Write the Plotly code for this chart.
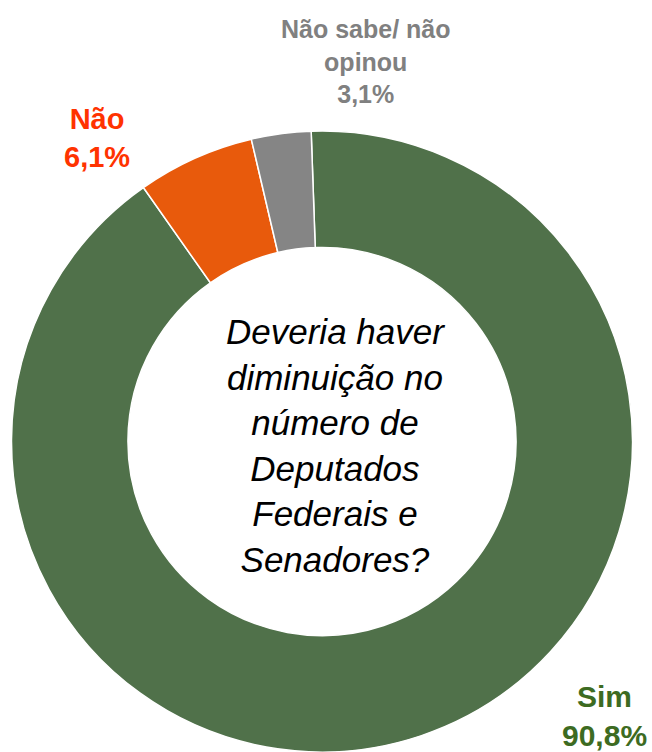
import plotly.graph_objects as go

# Data
categories = ["Sim", "Não", "Não sabe/ não opinou"]
values = [90.8, 6.1, 3.1]
label_lines = ["Sim", "Não", "Não sabe/ não<br>opinou"]

slice_colors = ["#50714a", "#e85a0c", "#858585"]
label_colors = ["#3d6b22", "#ff3300", "#808080"]

W, H = 652, 752

fig = go.Figure(go.Pie(
    labels=categories,
    values=values,
    sort=False,
    direction="clockwise",
    rotation=-2,
    hole=0.625,
    textinfo="none",
    marker=dict(colors=slice_colors, line=dict(color="white", width=1.5)),
    domain=dict(x=[10 / W, 634 / W], y=[0, 1 - 131 / H]),
    showlegend=False,
))

def fmt(v):
    return f"{v:.1f}%".replace(".", ",")

# label positions (pixel) and font sizes
label_pos = [(604, 716, 30), (97, 138, 29), (366, 62, 25)]
for i, cat in enumerate(categories):
    x, y, fs = label_pos[i]
    fig.add_annotation(
        x=x / W, y=1 - y / H, xref="paper", yref="paper",
        text=f"<b>{label_lines[i]}<br>{fmt(values[i])}</b>",
        showarrow=False, xanchor="center", yanchor="middle",
        font=dict(family="Liberation Sans, Arial", size=fs, color=label_colors[i]),
        align="center",
    )

fig.add_annotation(
    x=335 / W, y=1 - 445 / H, xref="paper", yref="paper",
    text="<i>Deveria haver<br>diminuição no<br>número de<br>Deputados<br>Federais e<br>Senadores?</i>",
    showarrow=False, xanchor="center", yanchor="middle",
    font=dict(family="Liberation Sans, Arial", size=35, color="black"),
    align="center",
)

fig.update_layout(
    width=W, height=H,
    margin=dict(l=0, r=0, t=0, b=0),
    paper_bgcolor="white", plot_bgcolor="white",
)

fig.write_html("out.html", config={"displayModeBar": False},
               post_script="document.body.style.margin='0';")
